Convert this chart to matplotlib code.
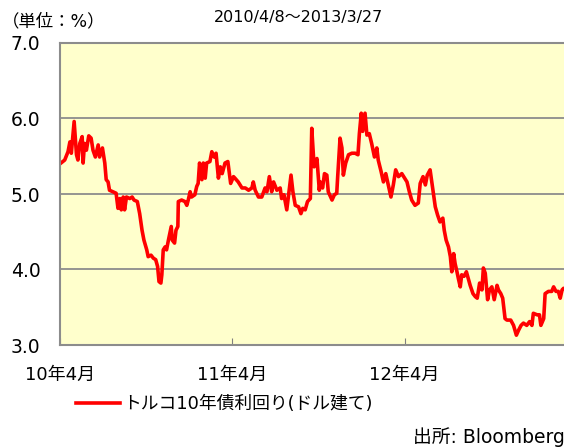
import numpy as np
import pandas as pd
import matplotlib
matplotlib.use("Agg")
import matplotlib.pyplot as plt

plt.rcParams['font.family'] = ['DejaVu Sans', 'Noto Sans CJK JP']

# days since 2010/4/8 and yield (%)
start = pd.Timestamp('2010-04-08')
day = [0, 10, 17, 21, 24, 30, 35, 38, 42, 47, 49, 52, 56, 61, 66, 70, 75, 81, 84, 90,
       95, 98, 102, 105, 112, 119, 123, 127, 130, 134, 137, 141, 148, 153, 157, 164, 169, 174, 178,
       184, 187, 193, 198, 203, 207, 210, 214, 216, 219, 223, 226, 230, 236, 238, 243, 246, 250,
       251, 258, 265, 269, 272, 276, 279, 286, 290, 293, 296, 301, 304, 308, 311, 318, 322, 327,
       331, 336, 340, 344, 350, 356, 362, 368,
       371, 378, 386, 393, 400, 407, 410, 414, 421, 428, 435, 439, 444, 449, 453, 460, 467, 470,
       475, 481, 490, 494, 499, 506, 511, 515, 520, 525, 531, 534, 539, 545, 550,
       552, 557, 561, 566, 569, 577, 582, 587, 589, 594, 598, 601, 606, 612, 619, 626, 632, 635,
       639, 642, 647, 651, 656, 661, 667, 672, 675, 681, 686, 691, 697, 702, 707, 712, 718, 725, 731,
       736, 741, 746, 753, 760, 764, 770, 775, 779, 785, 789, 792, 796, 801, 806, 812, 815, 819,
       824, 828, 831, 835, 838, 842, 845, 849, 852, 857, 862, 866, 870, 876, 881, 885, 890, 895,
       898, 902, 907, 911,
       916, 921, 927, 930, 935, 939, 944, 948, 956, 962, 968, 973, 978, 983, 990, 996, 1001, 1004,
       1012, 1017, 1020, 1026, 1029, 1036, 1043, 1047, 1052, 1057, 1061, 1065, 1068, 1084]
yld = [5.40, 5.45, 5.56, 5.69, 5.54, 5.96, 5.52, 5.45, 5.67, 5.76, 5.41, 5.67, 5.58, 5.77, 5.74, 5.58, 5.49, 5.65, 5.49, 5.61,
       5.41, 5.19, 5.16, 5.05, 5.03, 5.01, 4.81, 4.94, 4.79, 4.96, 4.79, 4.96, 4.94, 4.96, 4.92, 4.90, 4.74, 4.52, 4.39,
       4.26, 4.17, 4.19, 4.15, 4.13, 4.04, 3.84, 3.82, 3.93, 4.26, 4.30, 4.26, 4.39, 4.57, 4.39, 4.35, 4.52, 4.57,
       4.90, 4.92, 4.90, 4.85, 4.92, 5.03, 4.96, 4.99, 5.10, 5.14, 5.41, 5.19, 5.41, 5.21, 5.41, 5.43, 5.56, 5.49,
       5.54, 5.21, 5.36, 5.27, 5.41, 5.43, 5.14, 5.23,
       5.21, 5.16, 5.08, 5.08, 5.05, 5.08, 5.16, 5.05, 4.96, 4.96, 5.08, 5.03, 5.23, 5.03, 5.16, 5.05, 5.08, 4.94,
       4.99, 4.79, 5.25, 5.03, 4.85, 4.83, 4.74, 4.81, 4.79, 4.90, 4.94, 5.87, 5.36, 5.47, 5.05,
       5.16, 5.08, 5.27, 5.25, 5.03, 4.92, 4.99, 5.01, 5.23, 5.74, 5.61, 5.25, 5.41, 5.52, 5.54, 5.54, 5.52, 5.80,
       6.07, 5.83, 6.07, 5.78, 5.80, 5.67, 5.49, 5.61, 5.45, 5.30, 5.16, 5.27, 5.10, 4.96, 5.12, 5.32, 5.23, 5.27, 5.21,
       5.16, 5.03, 4.92, 4.85, 4.88, 5.14, 5.23, 5.12, 5.25, 5.32, 5.14, 5.01, 4.83, 4.72, 4.63, 4.68, 4.52, 4.39,
       4.30, 4.17, 3.97, 4.21, 4.08, 3.97, 3.88, 3.77, 3.93, 3.91, 3.97, 3.88, 3.79, 3.68, 3.64, 3.62, 3.82, 3.73,
       4.02, 3.95, 3.60, 3.73,
       3.77, 3.60, 3.79, 3.73, 3.68, 3.62, 3.35, 3.33, 3.33, 3.26, 3.13, 3.20, 3.26, 3.29, 3.26, 3.31, 3.26, 3.42,
       3.40, 3.40, 3.26, 3.35, 3.68, 3.71, 3.71, 3.77, 3.71, 3.71, 3.62, 3.73, 3.75, 3.75]

tick_dates = ['2010-04-08', '2011-04-08', '2012-04-08']
tick_labels = ['10年4月', '11年4月', '12年4月']
y_ticks = [3.0, 4.0, 5.0, 6.0, 7.0]

dates = start + pd.to_timedelta(day, unit='D')

fig = plt.figure(figsize=(5.64, 4.48), dpi=100)
ax = fig.add_axes([60 / 564, 103 / 448, 512 / 564, 302 / 448])
ax.set_facecolor('#ffffcc')

ax.plot(dates, yld, color='#ff0000', lw=2.6, solid_joinstyle='round')

ax.set_ylim(3.0, 7.0)
ax.set_xlim(start, pd.Timestamp('2013-03-29'))
ax.set_yticks(y_ticks)
ax.set_yticklabels(['{:.1f}'.format(v) for v in y_ticks], fontsize=13.5)
ax.set_xticks(pd.to_datetime(tick_dates))
ax.set_xticklabels(tick_labels, fontsize=13)
ax.tick_params(axis='y', length=0, pad=14)
ax.tick_params(axis='x', direction='in', length=5, color='#808080', pad=15)
ax.grid(axis='y', color='#8c8c8c', lw=1.3)
ax.set_axisbelow(True)
for s in ax.spines.values():
    s.set_color('#8c8c8c')
    s.set_linewidth(1.5)

fig.text(0.53, 0.962, '2010/4/8～2013/3/27', ha='center', va='center', fontsize=11.5)
fig.text(0.003, 0.953, '（単位：%）', ha='left', va='center', fontsize=12.5)

ax.legend(['トルコ10年債利回り(ドル建て)'], loc='center left', bbox_to_anchor=(60 / 564, 1 - 404 / 448),
          bbox_transform=fig.transFigure, frameon=False, fontsize=12.8,
          handlelength=2.5, handletextpad=0.15)
fig.text(413 / 564, 1 - 437 / 448, '出所: Bloomberg', ha='left', va='center', fontsize=13.5)

fig.savefig('out.png', dpi=100)
